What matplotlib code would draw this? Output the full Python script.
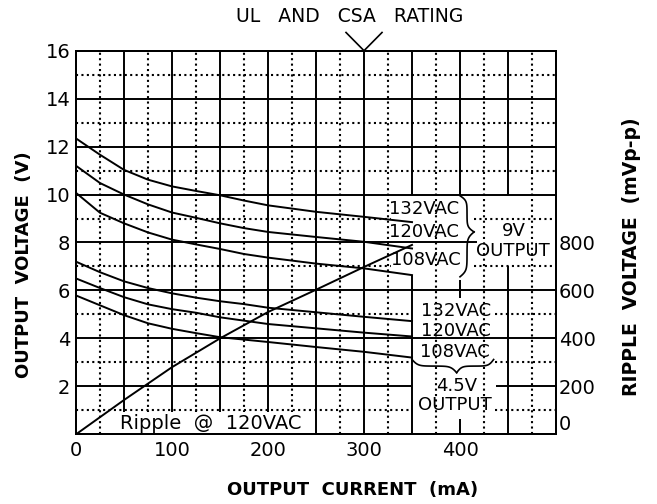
import numpy as np
import matplotlib
matplotlib.use('Agg')
import matplotlib.pyplot as plt
from matplotlib.patches import Rectangle

# output current (mA) for the regulation curves
current = [0, 25, 50, 75, 100, 125, 150, 175, 200, 250, 300, 350]
# 9V output, volts
out9_132 = [12.34, 11.66, 11.03, 10.62, 10.34, 10.15, 9.97, 9.75, 9.55, 9.28, 9.07, 8.85]
out9_120 = [11.2, 10.48, 10.0, 9.59, 9.25, 9.03, 8.8, 8.6, 8.44, 8.23, 8.03, 7.75]
out9_108 = [10.07, 9.24, 8.8, 8.42, 8.12, 7.92, 7.73, 7.52, 7.37, 7.12, 6.92, 6.64]
# 4.5V output, volts
out45_132 = [7.2, 6.76, 6.38, 6.1, 5.88, 5.7, 5.55, 5.43, 5.28, 5.09, 4.9, 4.72]
out45_120 = [6.5, 6.1, 5.72, 5.42, 5.22, 5.07, 4.88, 4.74, 4.6, 4.42, 4.24, 4.08]
out45_108 = [5.79, 5.38, 4.97, 4.63, 4.4, 4.22, 4.05, 3.95, 3.85, 3.64, 3.44, 3.2]

# ripple @ 120VAC, mVp-p
ripple_current = [0, 50, 100, 150, 200, 250, 300, 350]
ripple_mv = [0, 143, 280, 400, 510, 603, 698, 790]

x_ticks = [0, 100, 200, 300, 400]
y_ticks = [2, 4, 6, 8, 10, 12, 14, 16]
ripple_ticks = [0, 200, 400, 600, 800]

plt.rc('font', family='DejaVu Sans', size=13)
fig = plt.figure(figsize=(6.57, 5.04), dpi=100)
ax = fig.add_axes([0.1157, 0.1383, 0.7306, 0.7611])
ax.set_xlim(0, 500)
ax.set_ylim(0, 16)

LW = 1.4
solid = dict(color='black', lw=LW, solid_capstyle='butt', zorder=1)
dotted = dict(color='black', lw=1.5, linestyle=(0, (1, 1.6)), zorder=1)

# solid grid (every 50 mA / 2 V), with gaps where the labels sit
v_solid = {x: [(0, 16)] for x in range(50, 351, 50)}
v_solid[350] = [(0, 6.64), (10, 16)]
v_solid[400] = [(0, 0.65), (5.7, 6.45), (10, 16)]
v_solid[450] = [(0, 7.0), (10, 16)]
h_solid = {y: [(0, 500)] for y in range(2, 15, 2)}
h_solid[2] = [(0, 350), (437, 500)]
h_solid[8] = [(0, 418)]
for x, segs in v_solid.items():
    for y0, y1 in segs:
        ax.plot([x, x], [y0, y1], **solid)
for y, segs in h_solid.items():
    for x0, x1 in segs:
        ax.plot([x0, x1], [y, y], **solid)

# dotted grid (every 25 mA / odd volts)
for x in range(25, 500, 50):
    ax.plot([x, x], [0, 16], **dotted)
h_dot = {y: [(0, 500)] for y in range(1, 16, 2)}
h_dot[9] = [(0, 328), (415, 500)]
h_dot[7] = [(0, 328), (415, 500)]
h_dot[5] = [(0, 350), (436, 500)]
h_dot[3] = [(0, 350), (436, 500)]
h_dot[1] = [(0, 350), (436, 500)]
for y, segs in h_dot.items():
    for x0, x1 in segs:
        ax.plot([x0, x1], [y, y], **dotted)

# curves
for v in (out9_132, out9_120, out9_108, out45_132, out45_120, out45_108):
    ax.plot(current, v, color='black', lw=LW, zorder=4)

# ripple note
ax.add_patch(Rectangle((38, 0.03), 205, 0.9, facecolor='white', edgecolor='none', zorder=2))
ax.text(140, 0.47, 'Ripple  @  120VAC', ha='center', va='center', fontsize=14, zorder=3)


def half_brace(n=80, beta=15.0):
    s = np.linspace(0, 1, n)
    h = 1 / (1 + np.exp(-beta * s)) + 1 / (1 + np.exp(-beta * (s - 1))) - 0.5
    return s, h


s, h = half_brace()
# 9V brace (vertical, points right)
for y_end in (9.95, 6.57):
    ax.plot(400 + 14.6 * h, y_end + (8.44 - y_end) * s, color='black', lw=1.2, zorder=4)
# 4.5V brace (horizontal, points down)
for x_end in (350, 435):
    ax.plot(x_end + (396.5 - x_end) * s, 3.12 - 0.55 * h, color='black', lw=1.2, zorder=4)

lab = dict(ha='center', va='center', fontsize=13, zorder=5)
ax.text(362.5, 9.39, '132VAC', **lab)
ax.text(362.5, 8.44, '120VAC', **lab)
ax.text(364, 7.26, '108VAC', **lab)
ax.text(456, 8.49, '9V', **lab)
ax.text(455.5, 7.64, 'OUTPUT', **lab)
ax.text(395.6, 5.15, '132VAC', **lab)
ax.text(395.6, 4.31, '120VAC', **lab)
ax.text(394.8, 3.44, '108VAC', **lab)
ax.text(396.5, 2.03, '4.5V', **lab)
ax.text(394.3, 1.22, 'OUTPUT', **lab)

# UL and CSA rating marker
ax.text(285, 17.43, 'UL   AND   CSA   RATING', ha='center', va='center', fontsize=13.5, clip_on=False)
ax.plot([281.25, 300, 318.75], [16.76, 16, 16.76], color='black', lw=1.2, clip_on=False)

ax.set_xticks(x_ticks)
ax.set_yticks(y_ticks)
ax.tick_params(length=0, labelsize=14)
ax.tick_params(axis='x', pad=5)
ax.tick_params(axis='y', pad=4)
for sp in ax.spines.values():
    sp.set_linewidth(LW)

ax2 = ax.twinx()
ax2.set_ylim(0, 1600)
ax2.plot(ripple_current, ripple_mv, color='black', lw=LW, zorder=4)
ax2.set_yticks(ripple_ticks)
ax2.tick_params(length=0, labelsize=14, pad=2)
ax2.yaxis.get_major_ticks()[0].label2.set_verticalalignment('bottom')
for sp in ax2.spines.values():
    sp.set_linewidth(LW)

ax.text(-0.108, 0.441, 'OUTPUT  VOLTAGE  (V)', transform=ax.transAxes, rotation=90,
        ha='center', va='center', fontsize=13, fontweight='bold')
ax.text(0.577, -0.1465, 'OUTPUT  CURRENT  (mA)', transform=ax.transAxes,
        ha='center', va='center', fontsize=13, fontweight='bold')
ax.text(1.158, 0.462, 'RIPPLE  VOLTAGE  (mVp-p)', transform=ax.transAxes, rotation=90,
        ha='center', va='center', fontsize=13.5, fontweight='bold')

fig.savefig('out.png', dpi=100)
plt.close(fig)
